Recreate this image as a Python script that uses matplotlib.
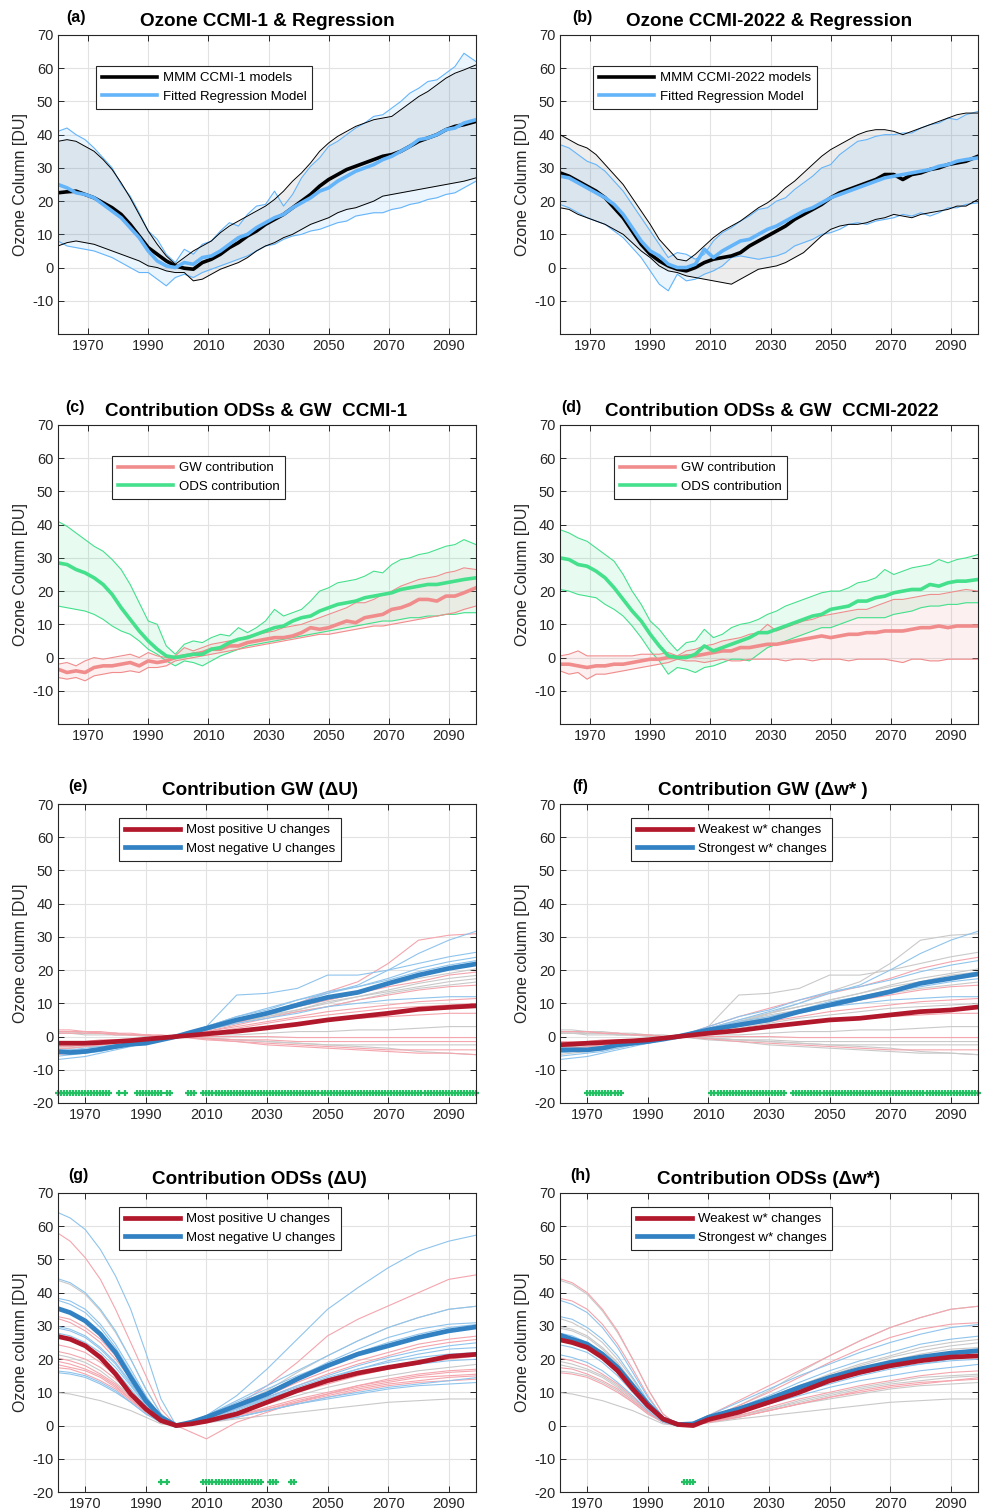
import numpy as np
import matplotlib
matplotlib.use('Agg')
import matplotlib.pyplot as plt
from matplotlib.lines import Line2D

plt.rcParams['font.family'] = ['Liberation Sans', 'DejaVu Sans']
plt.rcParams['axes.unicode_minus'] = False

# ── TAHUN ─────────────────────────────────────────────────────────────────────
yr3 = list(range(1960, 2098, 3)) + [2099]          # 47 titik, panel a-d
yr_m = [1960, 1965, 1970, 1975, 1980, 1985, 1990, 1995, 2000, 2005,
        2010, 2020, 2030, 2040, 2050, 2060, 2070, 2080, 2090, 2100]   # panel e-h

# ── PANEL (a) CCMI-1 ──────────────────────────────────────────────────────────
a_mmm = [22.5, 22.8, 23.0, 22.0, 21.0, 19.5, 18.0, 16.0, 13.0, 9.5,
         6.0, 4.0, 2.0, 0.5, -0.2, -0.5, 1.5, 2.5, 4.0, 6.0,
         7.5, 9.5, 11.0, 13.0, 14.5, 16.0, 18.0, 20.0, 22.0, 24.5,
         26.5, 28.0, 29.5, 30.5, 31.5, 32.5, 33.5, 34.0, 35.0, 36.5,
         38.0, 39.0, 40.0, 41.5, 42.5, 43.0, 44.0]
a_fit = [25.0, 24.0, 22.5, 22.0, 21.0, 19.0, 17.0, 15.0, 12.0, 9.0,
         5.0, 2.0, 0.5, 0.0, 1.5, 1.0, 3.0, 3.5, 5.0, 7.0,
         9.0, 10.0, 12.0, 13.5, 15.0, 16.0, 18.0, 19.5, 21.0, 23.0,
         24.0, 26.0, 27.5, 29.0, 30.0, 31.0, 32.5, 33.5, 35.0, 36.5,
         38.5, 39.0, 40.0, 41.5, 42.0, 43.5, 44.5]
a_blk_hi = [38.0, 38.5, 38.0, 36.5, 35.0, 32.5, 29.5, 25.5, 21.0, 16.0,
            11.0, 7.0, 3.5, 1.0, 3.0, 5.0, 6.5, 8.0, 10.5, 12.5,
            14.0, 15.5, 17.0, 18.5, 20.5, 23.0, 26.0, 28.5, 31.5, 35.0,
            37.5, 39.5, 41.0, 42.5, 43.5, 44.5, 45.0, 45.5, 47.5, 49.5,
            51.5, 53.0, 55.0, 57.0, 58.5, 59.5, 61.0]
a_blk_lo = [6.5, 7.5, 8.0, 7.5, 7.0, 6.0, 5.0, 4.0, 3.0, 2.0,
            0.5, 0.0, -1.0, -1.5, -1.5, -4.0, -3.5, -2.0, -0.5, 0.5,
            1.5, 3.0, 5.0, 6.5, 7.5, 9.0, 10.0, 11.5, 13.0, 14.0,
            15.0, 16.5, 17.5, 18.0, 19.0, 20.0, 21.5, 22.0, 22.5, 23.0,
            23.5, 24.0, 24.5, 25.0, 25.5, 26.0, 27.0]
a_fit_hi = [41.0, 42.0, 40.0, 38.5, 36.0, 33.0, 30.0, 25.0, 21.5, 16.5,
            11.0, 8.5, 4.0, 1.5, 5.5, 4.0, 7.0, 8.0, 11.0, 13.5,
            12.5, 16.0, 18.5, 19.0, 23.0, 18.5, 22.0, 27.0, 30.5, 33.0,
            36.5, 38.0, 40.0, 42.0, 43.5, 45.5, 46.0, 48.0, 50.0, 52.5,
            54.0, 56.0, 56.5, 58.5, 60.5, 64.5, 62.0]
a_fit_lo = [8.0, 6.5, 6.0, 5.5, 5.0, 4.0, 3.0, 1.5, 0.0, -1.5,
            -1.5, -3.5, -5.5, -3.0, -2.0, -3.0, -1.5, -0.5, 0.5, 1.5,
            2.5, 3.5, 5.0, 6.5, 7.0, 8.5, 9.5, 10.0, 11.0, 11.5,
            12.5, 13.5, 14.0, 15.5, 16.0, 16.5, 16.5, 17.5, 18.0, 19.0,
            19.5, 20.5, 21.0, 22.0, 22.5, 24.0, 26.0]

# ── PANEL (b) CCMI-2022 ───────────────────────────────────────────────────────
b_mmm = [28.5, 27.5, 26.0, 24.5, 23.0, 21.0, 18.0, 15.0, 11.0, 7.0,
         4.0, 2.0, 0.5, -0.5, -1.0, 0.0, 1.5, 2.5, 3.0, 3.5,
         4.5, 6.5, 8.0, 9.5, 11.0, 12.5, 14.5, 16.0, 17.5, 19.0,
         21.0, 22.5, 23.5, 24.5, 25.5, 26.5, 28.0, 28.0, 26.5, 28.0,
         28.5, 29.5, 30.0, 31.0, 31.5, 32.0, 33.5]
b_fit = [27.5, 27.0, 25.5, 24.0, 22.5, 21.0, 19.0, 16.0, 12.0, 8.0,
         5.0, 3.5, 1.0, 0.0, 0.0, 1.0, 5.5, 3.0, 5.0, 6.5,
         8.0, 8.5, 10.0, 11.5, 12.5, 14.0, 15.5, 17.0, 18.0, 19.5,
         21.0, 22.0, 23.0, 24.0, 25.0, 26.0, 27.0, 27.5, 28.0, 28.5,
         29.0, 29.5, 30.5, 31.0, 32.0, 32.5, 33.0]
b_blk_hi = [40.0, 38.5, 37.0, 36.0, 34.0, 31.0, 28.0, 25.0, 21.0, 17.0,
            13.0, 8.5, 5.5, 2.5, 2.0, 4.0, 6.5, 9.0, 11.0, 12.5,
            14.0, 16.0, 18.0, 19.5, 21.5, 24.0, 26.0, 28.5, 31.0, 33.5,
            35.5, 37.0, 38.5, 40.0, 41.0, 41.5, 41.5, 41.0, 40.0, 41.0,
            42.0, 43.0, 44.0, 45.0, 46.0, 46.5, 46.5]
b_blk_lo = [18.0, 17.5, 16.0, 15.0, 14.0, 13.0, 11.5, 10.0, 7.5, 5.0,
            3.0, 0.5, -1.0, -1.5, -2.5, -3.0, -3.5, -4.0, -4.5, -5.0,
            -3.5, -2.0, -0.5, 0.0, 0.5, 1.5, 3.0, 4.5, 7.0, 9.5,
            11.5, 12.5, 13.0, 13.0, 13.5, 14.5, 15.0, 16.0, 15.5, 15.0,
            16.0, 16.5, 17.0, 17.5, 18.5, 18.5, 20.5]
b_fit_hi = [37.0, 36.0, 34.0, 32.0, 31.0, 29.0, 26.0, 23.0, 19.0, 15.0,
            11.0, 7.0, 3.0, 4.5, 4.0, 2.5, 4.0, 8.0, 10.5, 12.0,
            14.0, 15.5, 17.5, 18.0, 20.0, 21.0, 23.5, 25.5, 27.5, 30.0,
            31.0, 34.0, 36.0, 38.0, 38.5, 39.5, 40.0, 40.0, 40.5, 40.5,
            42.0, 43.0, 43.5, 45.0, 44.5, 46.0, 47.0]
b_fit_lo = [19.0, 18.0, 16.5, 15.0, 14.0, 13.0, 11.0, 9.0, 6.0, 3.0,
            -1.0, -5.0, -7.0, -2.0, -4.0, -3.5, -2.0, -1.0, 0.5, 3.0,
            3.5, 3.0, 2.5, 3.0, 3.5, 4.5, 6.5, 7.5, 8.5, 10.0,
            10.5, 11.5, 13.0, 13.5, 13.0, 14.0, 14.5, 15.0, 16.0, 15.5,
            16.5, 15.5, 16.5, 18.0, 18.0, 19.0, 19.5]

# ── PANEL (c) KONTRIBUSI CCMI-1 ──────────────────────────────────────────────
c_ods = [28.5, 28.0, 26.5, 25.5, 24.0, 22.0, 19.0, 15.0, 11.5, 8.0,
         5.0, 2.5, 0.5, 0.0, 0.5, 1.0, 1.0, 2.5, 3.0, 4.5,
         5.5, 6.0, 7.0, 8.0, 9.0, 9.5, 11.0, 12.0, 12.5, 14.0,
         15.0, 16.0, 16.5, 17.0, 18.0, 18.5, 19.0, 19.5, 20.5, 21.0,
         21.5, 22.0, 22.0, 22.5, 23.0, 23.5, 24.0]
c_gw = [-3.5, -4.5, -4.0, -4.5, -3.0, -2.5, -2.5, -2.0, -1.5, -2.5,
        -1.0, -1.5, -1.0, 0.0, 0.5, 1.0, 1.5, 2.5, 2.5, 3.5,
        3.5, 4.5, 5.0, 5.5, 6.0, 6.0, 6.5, 7.5, 9.0, 8.5,
        9.0, 10.0, 11.0, 10.5, 12.0, 12.5, 13.0, 14.5, 15.0, 16.0,
        17.5, 17.5, 17.0, 18.5, 18.5, 19.5, 21.0]
c_ods_hi = [41.0, 39.5, 37.5, 35.5, 33.5, 32.0, 29.5, 26.5, 22.0, 16.5,
            11.0, 10.0, 3.5, 1.0, 4.0, 5.0, 4.5, 6.0, 7.0, 6.5,
            9.0, 7.5, 9.0, 11.0, 14.5, 12.5, 13.5, 14.5, 17.0, 20.0,
            21.0, 22.5, 23.0, 23.5, 24.5, 26.0, 25.5, 28.0, 29.5, 30.0,
            31.0, 31.5, 32.5, 33.5, 34.0, 35.5, 34.0]
c_ods_lo = [15.5, 15.0, 14.5, 14.0, 13.0, 11.5, 9.5, 8.0, 7.0, 5.0,
            2.5, 1.0, -1.0, -2.5, -1.0, -1.5, -2.5, -1.0, 0.5, 1.5,
            2.5, 3.5, 4.0, 4.5, 5.0, 5.5, 6.0, 6.5, 7.0, 7.5,
            8.0, 8.5, 9.0, 9.5, 10.0, 10.5, 11.0, 11.0, 11.5, 12.0,
            12.0, 12.5, 12.5, 13.0, 13.0, 13.5, 13.5]
c_gw_hi = [-2.0, -1.5, -2.5, -1.0, 0.0, -0.5, 0.0, 0.5, 1.0, 0.0,
           1.5, 0.5, 0.0, 0.5, 3.0, 2.0, 3.0, 4.0, 4.5, 5.0,
           5.5, 6.5, 7.0, 7.5, 8.0, 9.0, 9.5, 10.0, 11.0, 12.0,
           13.0, 14.0, 15.0, 16.5, 16.5, 17.5, 19.0, 20.0, 21.5, 22.5,
           23.5, 24.0, 24.5, 25.5, 26.0, 27.0, 26.5]
c_gw_lo = [-6.0, -6.5, -6.0, -7.0, -5.5, -5.0, -4.5, -4.5, -4.0, -4.5,
           -3.0, -3.0, -2.5, -1.0, -0.5, 0.0, 0.5, 1.0, 1.5, 2.0,
           2.5, 3.0, 3.5, 4.0, 4.5, 5.0, 5.5, 6.0, 6.5, 7.0,
           7.0, 7.5, 8.0, 8.5, 9.0, 9.5, 9.5, 10.0, 10.5, 11.0,
           11.5, 12.0, 12.5, 13.0, 13.5, 14.5, 15.5]

# ── PANEL (d) KONTRIBUSI CCMI-2022 ───────────────────────────────────────────
d_ods = [30.0, 29.5, 28.0, 27.5, 26.0, 24.0, 21.0, 17.5, 14.0, 11.0,
         7.0, 3.5, 0.5, 0.0, 0.0, 1.0, 3.5, 2.0, 3.0, 4.0,
         5.0, 6.0, 7.5, 7.5, 8.5, 9.5, 10.5, 11.5, 12.5, 13.0,
         14.5, 15.0, 15.5, 17.0, 17.0, 18.0, 18.5, 19.5, 20.0, 20.5,
         20.5, 22.0, 21.5, 22.5, 23.0, 23.0, 23.5]
d_gw = [-2.0, -2.0, -2.5, -3.0, -2.5, -2.5, -2.0, -2.0, -1.5, -1.0,
        -0.5, -0.5, 0.0, 0.0, 0.5, 0.5, 1.0, 1.5, 2.0, 2.0,
        3.0, 3.0, 3.5, 4.0, 4.0, 4.5, 5.0, 5.5, 6.0, 6.5,
        6.0, 6.5, 7.0, 7.0, 7.5, 7.5, 8.0, 8.0, 8.0, 8.5,
        9.0, 9.0, 9.5, 9.0, 9.5, 9.5, 9.5]
d_ods_hi = [38.5, 37.5, 36.0, 35.0, 33.0, 31.0, 29.0, 25.0, 20.0, 16.0,
            11.0, 8.5, 5.0, 2.0, 4.5, 5.0, 8.5, 6.0, 7.0, 9.0,
            10.0, 10.5, 11.5, 13.0, 14.0, 15.5, 16.5, 17.5, 18.5, 19.5,
            20.0, 20.0, 21.0, 22.5, 23.0, 24.0, 26.5, 25.0, 26.0, 27.0,
            27.5, 28.0, 29.5, 28.5, 29.5, 30.0, 31.0]
d_ods_lo = [20.5, 20.0, 19.0, 18.5, 18.0, 16.0, 14.5, 12.5, 9.5, 6.0,
            2.0, -1.0, -5.0, -3.0, -3.5, -4.5, -3.0, -2.5, -1.5, -0.5,
            -0.5, -1.0, 1.0, 3.0, 4.0, 5.0, 6.0, 7.0, 8.0, 9.0,
            9.0, 10.0, 11.0, 12.0, 12.0, 12.0, 12.0, 13.0, 13.5, 14.0,
            15.0, 15.5, 15.5, 16.0, 16.0, 16.5, 16.5]
d_gw_hi = [0.5, 1.0, 2.0, 0.5, 0.5, 0.5, 0.5, 0.5, 0.5, 1.0,
           1.0, 1.0, 1.5, 0.5, 2.0, 2.5, 3.5, 4.0, 5.0, 5.5,
           6.0, 7.0, 7.5, 10.0, 8.0, 9.0, 10.0, 11.0, 11.5, 12.5,
           13.0, 13.5, 14.0, 14.5, 14.5, 15.5, 16.5, 17.5, 17.5, 18.0,
           18.5, 19.0, 19.0, 19.5, 20.0, 20.5, 20.0]
d_gw_lo = [-4.0, -5.0, -4.5, -6.5, -5.0, -5.0, -4.5, -4.0, -3.5, -3.0,
           -2.5, -2.0, -1.5, -0.5, -1.0, -1.0, -1.5, -1.0, -0.5, -1.0,
           -1.0, -0.5, -0.5, -0.5, -0.5, -1.0, -0.5, -0.5, -1.0, -0.5,
           -0.5, -0.5, -1.0, -0.5, -0.5, -0.5, -0.5, -1.0, -1.5, -0.5,
           -0.5, -1.0, -1.0, -0.5, -0.5, -0.5, -0.5]

# ── PANEL (e)/(f) MODEL GW ────────────────────────────────────────────────────
gw01 = [-7, -6.5, -6, -5, -4, -3, -2, -1, 0, 1, 2.5, 5, 7.5, 10, 13, 15.5, 20, 25, 29, 32]
gw02 = [-5.5, -5, -4.5, -4, -3.5, -2.5, -1.5, -0.5, 0, 1, 2, 4, 7, 10, 13.5, 16.5, 22, 29, 30.5, 31]
gw03 = [-5, -4.5, -4, -3.5, -3, -2.5, -2, -1, 0, 1.5, 3, 12.5, 13, 14.5, 18.5, 18.5, 20, 22, 24, 25.5]
gw04 = [-4, -4, -3.5, -3, -2.5, -2, -1.5, -0.5, 0, 1.5, 3, 6, 8.5, 11, 13, 15, 17.5, 20.5, 22.5, 24]
gw05 = [-6, -5.5, -5, -4.5, -3.5, -2.5, -2, -1, 0, 1.5, 3, 6, 8, 11, 13.5, 15, 17, 19.5, 21.5, 23]
gw06 = [-3.5, -3.5, -3, -2.5, -2, -1.5, -1, -0.5, 0, 1, 2.5, 5, 7, 9, 11, 13, 15.5, 17.5, 19, 20.5]
gw07 = [-3, -3, -2.5, -2.5, -2, -1.5, -1, -0.5, 0, 1, 2, 4.5, 7, 9, 11, 13, 15, 16.5, 18.5, 19.5]
gw08 = [-4, -3.5, -3, -3, -2.5, -2, -1.5, -0.5, 0, 1, 2, 4.5, 6.5, 8, 10, 12, 14, 16, 17.5, 18.5]
gw09 = [-5, -4.5, -4, -3.5, -3, -2, -1.5, -0.5, 0, 1, 2.5, 4.5, 6, 8, 10.5, 12, 13.5, 15, 16.5, 17.5]
gw10 = [-3, -3, -2.5, -2, -2, -1.5, -1, -0.5, 0, 1, 2, 4, 6, 7.5, 9, 11, 13, 14.5, 15.5, 16.5]
gw11 = [-3.5, -3.5, -3, -2.5, -2, -1.5, -1, -0.5, 0, 0.5, 1.5, 3.5, 5.5, 7.5, 9, 11, 12.5, 14, 15, 15.5]
gw12 = [-4.5, -4, -4, -3.5, -3, -2.5, -1.5, -1, 0, 1, 2, 4, 5.5, 7, 9, 10, 11, 11.5, 12, 12]
gw13 = [-2.5, -2.5, -2, -2, -1.5, -1, -1, -0.5, 0, 0.5, 1.5, 3, 4.5, 6, 7.5, 8.5, 9.5, 10.5, 11, 11.5]
gw14 = [-2, -2, -2, -1.5, -1.5, -1, -0.5, -0.5, 0, 0.5, 1, 2.5, 4, 5.5, 6.5, 7.5, 8.5, 9, 9.5, 10]
gw15 = [-1.5, -1.5, -1.5, -1, -1, -1, -0.5, -0.5, 0, 0.5, 1, 2, 3, 4, 5, 5.5, 6, 6.5, 7, 7]
gw16 = [1, 1, 0.5, 0.5, 0.5, 0.5, 0, 0, 0, 0, 0.5, 0.5, 1, 1.5, 1.5, 2, 2, 2.5, 3, 3]
gw17 = [1.5, 1.5, 1.5, 1, 1, 0.5, 0.5, 0, 0, 0, 0, 0, 0, -0.3, -0.3, -0.3, -0.3, -0.3, -0.3, -0.3]
gw18 = [2, 2, 1.5, 1.5, 1, 1, 0.5, 0.5, 0, -0.3, -0.5, -1, -1, -1.5, -1.5, -1.5, -1.5, -1.5, -1.5, -1.5]
gw19 = [1, 1, 1, 1, 0.5, 0.5, 0.5, 0, 0, -0.3, -0.5, -1, -1.5, -2, -2.5, -2.5, -2.5, -2.5, -2.5, -2.5]
gw20 = [1.5, 1.5, 1, 1, 1, 0.5, 0.5, 0, 0, -0.3, -0.5, -1, -1.5, -2, -2.5, -3, -3.5, -4.5, -5, -5.5]
gw21 = [1.5, 1.5, 1.5, 1, 1, 0.5, 0.5, 0, 0, -0.3, -0.7, -1.5, -2, -2.5, -3, -3.5, -4, -4, -4, -4]
gw22 = [1, 1, 1, 1, 0.5, 0.5, 0.5, 0, 0, -0.5, -1, -1.5, -2.5, -3, -3.5, -4, -4.5, -5, -5, -5.5]
gw_models = [gw01, gw02, gw03, gw04, gw05, gw06, gw07, gw08, gw09, gw10, gw11,
             gw12, gw13, gw14, gw15, gw16, gw17, gw18, gw19, gw20, gw21, gw22]
warna_e = ['b', 'r', 'b', 'b', 'b', 'g', 'r', 'g', 'g', 'g', 'r',
           'b', 'r', 'r', 'r', 'g', 'r', 'r', 'g', 'g', 'r', 'r']
warna_f = ['b', 'g', 'g', 'r', 'b', 'g', 'g', 'g', 'b', 'g', 'r',
           'b', 'r', 'g', 'r', 'g', 'r', 'g', 'g', 'g', 'r', 'g']

e_pos = [-2, -2, -2, -1.8, -1.5, -1.2, -0.8, -0.4, 0, 0.4, 0.8, 1.6, 2.6, 3.7, 5, 6, 7, 8.2, 8.8, 9.3]
e_neg = [-4.5, -4.8, -4.5, -3.8, -3, -2.3, -2, -1, 0, 1.3, 2.5, 5, 7, 9.5, 11.8, 13.3, 16, 18.5, 20.5, 22]
f_weak = [-2.5, -2.3, -2, -1.8, -1.5, -1.3, -1, -0.5, 0, 0.5, 1, 1.8, 3, 4, 5, 5.5, 6.5, 7.5, 8, 9]
f_strong = [-4, -4, -4, -3.5, -2.5, -2, -1.5, -0.8, 0, 1, 2, 3.5, 5, 7.5, 9.5, 11.5, 13.5, 16, 17.5, 19]

# ── PANEL (g)/(h) MODEL ODS ───────────────────────────────────────────────────
od01 = [64.5, 62.5, 59, 53, 45, 35, 22, 8, 0, 1, 3, 9, 17, 26, 35, 41.5, 47.5, 52.5, 55.5, 57.5]
od02 = [58.5, 55.5, 50.5, 44, 35, 25, 15, 5, 0, 0.5, 2, 6, 12, 19, 27, 32, 36, 40, 44, 45.5]
od03 = [44.5, 43, 40, 35, 28.5, 20, 11, 3.5, 0, 1, 3, 7.5, 12, 16.5, 21, 25.5, 29.5, 32.5, 35, 36]
od04 = [44, 42.5, 39.5, 34.5, 28, 20, 11, 3.5, 0, 0.5, 2, 6, 10.5, 16, 21, 25.5, 29.5, 32.5, 35, 36]
od05 = [38.5, 37.5, 35, 30.5, 24.5, 17, 9, 2.5, 0, 0.5, 2, 6, 10, 14.5, 19, 23, 26.5, 29, 30.5, 31]
od06 = [38, 36.5, 34, 29.5, 23.5, 16, 8.5, 2.5, 0, 1, 3, 7, 11, 15, 18.5, 22, 25, 27.5, 29.5, 30.5]
od07 = [33, 32, 29.5, 26, 21, 14.5, 7.5, 2, 0, 0.5, 2, 5.5, 9, 13, 16.5, 19.5, 22, 24.5, 26, 27]
od08 = [32.5, 31, 28.5, 25, 20, 14, 7, 2, 0, 0.5, 1.5, 5, 8.5, 12, 15.5, 18.5, 21, 23.5, 25, 26]
od09 = [30, 29, 27, 23.5, 19, 13, 6.5, 1.5, 0, 0.5, 2, 5, 8.5, 12, 15, 18, 20.5, 22.5, 24, 25]
od10 = [29.5, 28.5, 26.5, 23, 18.5, 12.5, 6.5, 1.5, 0, 0.5, 1.5, 4.5, 8, 11, 14, 17, 19.5, 21.5, 23, 23.5]
od11 = [28, 27, 25, 22, 17.5, 12, 6, 1.5, 0, 1, 2.5, 5.5, 8.5, 11.5, 14.5, 17, 19, 20.5, 21.5, 22]
od12 = [27, 26, 24, 21, 16.5, 11, 5.5, 1.5, 0, 0.5, 2, 5, 8, 11, 13.5, 15.5, 17.5, 18.5, 19.5, 20]
od13 = [24.5, 23.5, 22, 19, 15, 10, 5, 1.5, 0, 0.5, 1.5, 4, 7, 10, 12.5, 15, 17, 18.5, 20, 21]
od14 = [21.5, 20.5, 19, 16.5, 13, 9, 4.5, 1, 0, 0.5, 1.5, 4, 6.5, 9, 11.5, 13.5, 15, 16.5, 17.5, 18.5]
od15 = [20.5, 19.5, 18, 15.5, 12.5, 8.5, 4.5, 1, 0, 0.3, 1, 3, 5.5, 8, 10, 12, 13.5, 15, 16, 16.5]
od16 = [19.5, 18.5, 17, 15, 12, 8, 4, 1, 0, 0.3, 1, 3, 5, 7.5, 9.5, 11.5, 13, 14.5, 15, 15.5]
od17 = [18.5, 17.5, 16.5, 14.5, 11.5, 8, 4, 1, 0, 0.3, 1, 3, 5, 7, 9, 11, 12.5, 13.5, 14.5, 15]
od18 = [17.5, 17, 15.5, 13.5, 11, 7.5, 4, 1, 0, 0.3, 1, 2.5, 4.5, 6.5, 8.5, 10.5, 12, 13, 13.5, 14]
od19 = [16.5, 16, 15, 13, 10.5, 7, 3.5, 1, 0, 0.3, 1, 2.5, 4.5, 6.5, 8, 9.5, 11, 12, 12.5, 13]
od20 = [16, 15.5, 14.5, 12.5, 10, 7, 3.5, 1, 0, 0.3, 1, 2.5, 4.5, 6.5, 8.5, 10, 11.5, 12.5, 13.5, 14.5]
od21 = [10, 9.5, 8.5, 7.5, 6, 4.5, 2.5, 0.5, 0, 0.3, 0.8, 2, 3, 4, 5, 6, 7, 7.5, 8, 8]
od22 = [22.5, 21.5, 20, 17.5, 14, 9.5, 5, 1, 0, -2, -4, 1, 4, 7, 9.5, 12, 14, 15.5, 16.5, 17]
ods_models = [od01, od02, od03, od04, od05, od06, od07, od08, od09, od10, od11,
              od12, od13, od14, od15, od16, od17, od18, od19, od20, od21, od22]
warna_g = ['b', 'r', 'b', 'g', 'b', 'b', 'r', 'r', 'b', 'b', 'b',
           'b', 'r', 'g', 'r', 'r', 'r', 'r', 'b', 'b', 'g', 'r']
warna_h = [None, None, 'r', 'g', 'r', 'b', 'b', 'g', 'g', 'g', 'b',
           'b', 'b', 'b', 'r', 'g', 'g', 'r', 'g', 'r', 'g', None]

g_pos = [27, 26, 24, 20.5, 15.5, 9.5, 5, 1.5, 0, 0.5, 1.3, 3.5, 7, 10.5, 13.5, 15.8, 17.5, 19, 20.8, 21.5]
g_neg = [35.5, 34, 31.5, 27.5, 22, 14.5, 7.5, 2.5, 0, 1, 2.5, 6, 9.5, 14, 18, 21.5, 24, 26.5, 28.5, 29.8]
h_weak = [26, 25, 23.5, 20.5, 16.5, 11, 6, 2, 0.3, 0, 1.8, 4, 7, 10, 13.5, 16, 18, 19.5, 20.6, 21]
h_strong = [27.5, 26, 24.5, 21.5, 17.5, 12, 6.5, 2, 0.3, 0.5, 2.5, 5, 8, 11.5, 14.5, 17, 19, 20.6, 21.8, 22.6]

# ── TAHUN SIGNIFIKAN (penanda hijau) ─────────────────────────────────────────
sig_e = list(range(1961, 1979)) + [1981, 1983] + list(range(1987, 1996)) + [1997, 1998] \
    + [2004, 2005, 2006] + list(range(2009, 2100))
sig_f = list(range(1970, 1982)) + list(range(2011, 2036)) + list(range(2038, 2100))
sig_g = [1995, 1997] + list(range(2009, 2029)) + [2031, 2032, 2033, 2038, 2039]
sig_h = [2002, 2003, 2004, 2005]

# ── WARNA ─────────────────────────────────────────────────────────────────────
C_FIT = '#64b4fa'
C_GW = '#f08c8c'
C_ODS = '#44e08c'
C_RED = '#b2182b'
C_BLUE = '#3282c3'
C_SIG = '#22c063'
TIPIS = {'r': '#f4a5ad', 'b': '#8fc4ec', 'g': '#c9c9c9'}

fig = plt.figure(figsize=(9.83, 15.12), dpi=100)
kiri = [58 / 983, 560 / 983]
bawah = [1 - 334 / 1512, 1 - 724 / 1512, 1 - 1103 / 1512, 1 - 1492 / 1512]
lebar, tinggi = 418 / 983, 299 / 1512
axes = [[fig.add_axes([kiri[c], bawah[r], lebar, tinggi]) for c in range(2)] for r in range(4)]


def gaya(ax, baris34):
    ax.set_xlim(1961 if baris34 else 1960, 2099)
    ax.set_ylim(-20, 70)
    ax.set_xticks(range(1970, 2100, 20))
    ax.set_yticks(range(-20 if baris34 else -10, 71, 10))
    ax.grid(True, color='#e2e2e2', lw=0.8)
    ax.set_axisbelow(True)
    ax.tick_params(direction='in', top=True, right=True, length=4, width=0.7,
                   labelsize=10.5, colors='#262626')
    for s in ax.spines.values():
        s.set_color('#262626')
        s.set_linewidth(0.8)
    ax.set_ylabel('Ozone column [DU]' if baris34 else 'Ozone Column [DU]',
                  fontsize=11.5, color='#262626', labelpad=3)


def judul(ax, huruf, teks, xc, xl):
    ax.text(xc, 1.045, teks, transform=ax.transAxes, ha='center', va='center',
            fontsize=13.6, fontweight='bold')
    ax.text(xl, 1.06, huruf, transform=ax.transAxes, ha='left', va='center',
            fontsize=11.5, fontweight='bold')


def legenda(ax, handles, labels, x, y):
    leg = ax.legend(handles, labels, loc='upper left', bbox_to_anchor=(x, y),
                    borderaxespad=0, fancybox=False, edgecolor='#262626',
                    framealpha=1, fontsize=9.5, handlelength=4.2,
                    labelspacing=0.5, borderpad=0.45, handletextpad=0.4)
    leg.get_frame().set_linewidth(0.8)


# ── BARIS 1: OZON & REGRESI ──────────────────────────────────────────────────
for ax, mmm, fit, bh, bl, fh, fl, nama, huruf, xl, lx in [
        (axes[0][0], a_mmm, a_fit, a_blk_hi, a_blk_lo, a_fit_hi, a_fit_lo,
         'CCMI-1', '(a)', 0.02, 0.091),
        (axes[0][1], b_mmm, b_fit, b_blk_hi, b_blk_lo, b_fit_hi, b_fit_lo,
         'CCMI-2022', '(b)', 0.029, 0.079)]:
    gaya(ax, False)
    ax.fill_between(yr3, bl, bh, color='black', alpha=0.07, lw=0)
    ax.fill_between(yr3, fl, fh, color=C_FIT, alpha=0.13, lw=0)
    ax.plot(yr3, fh, color=C_FIT, lw=0.8)
    ax.plot(yr3, fl, color=C_FIT, lw=0.8)
    ax.plot(yr3, bh, color='black', lw=0.7)
    ax.plot(yr3, bl, color='black', lw=0.7)
    h1, = ax.plot(yr3, mmm, color='black', lw=2.6)
    h2, = ax.plot(yr3, fit, color=C_FIT, lw=2.6)
    legenda(ax, [h1, h2], ['MMM %s models' % nama, 'Fitted Regression Model'], lx, 0.896)
    judul(ax, huruf, 'Ozone %s & Regression' % nama, 0.5, xl)

# ── BARIS 2: KONTRIBUSI ODS & GW ─────────────────────────────────────────────
for ax, ods, gw, oh, ol, gh, gl, nama, huruf, xc, xl in [
        (axes[1][0], c_ods, c_gw, c_ods_hi, c_ods_lo, c_gw_hi, c_gw_lo,
         'CCMI-1', '(c)', 0.474, 0.017),
        (axes[1][1], d_ods, d_gw, d_ods_hi, d_ods_lo, d_gw_hi, d_gw_lo,
         'CCMI-2022', '(d)', 0.507, 0.003)]:
    gaya(ax, False)
    ax.fill_between(yr3, ol, oh, color=C_ODS, alpha=0.12, lw=0)
    ax.fill_between(yr3, gl, gh, color=C_GW, alpha=0.13, lw=0)
    for arr in (oh, ol):
        ax.plot(yr3, arr, color=C_ODS, lw=0.8)
    for arr in (gh, gl):
        ax.plot(yr3, arr, color=C_GW, lw=0.8)
    h1, = ax.plot(yr3, gw, color=C_GW, lw=2.6)
    h2, = ax.plot(yr3, ods, color=C_ODS, lw=2.6)
    legenda(ax, [h1, h2], ['GW contribution', 'ODS contribution'], 0.129, 0.896)
    judul(ax, huruf, 'Contribution ODSs & GW  %s' % nama, xc, xl)

# ── BARIS 3-4: MODEL INDIVIDU ────────────────────────────────────────────────
panel_bawah = [
    (axes[2][0], gw_models, warna_e, e_pos, e_neg, sig_e, '(e)', 'Contribution GW (\u0394U)',
     0.483, 0.024, 0.146, ['Most positive U changes', 'Most negative U changes']),
    (axes[2][1], gw_models, warna_f, f_weak, f_strong, sig_f, '(f)', 'Contribution GW (\u0394w* )',
     0.486, 0.029, 0.170, ['Weakest w* changes', 'Strongest w* changes']),
    (axes[3][0], ods_models, warna_g, g_pos, g_neg, sig_g, '(g)', 'Contribution ODSs (\u0394U)',
     0.481, 0.024, 0.146, ['Most positive U changes', 'Most negative U changes']),
    (axes[3][1], ods_models, warna_h, h_weak, h_strong, sig_h, '(h)', 'Contribution ODSs (\u0394w*)',
     0.498, 0.024, 0.170, ['Weakest w* changes', 'Strongest w* changes']),
]
for ax, models, warna, merah, biru, sig, huruf, teks, xc, xl, lx, lab in panel_bawah:
    gaya(ax, True)
    for kode in ('g', 'r', 'b'):
        for m, w in zip(models, warna):
            if w == kode:
                ax.plot(yr_m, m, color=TIPIS[kode], lw=0.8)
    hb, = ax.plot(yr_m, biru, color=C_BLUE, lw=3.4)
    hr, = ax.plot(yr_m, merah, color=C_RED, lw=3.4)
    ax.plot(sig, np.full(len(sig), -17.0), '+', color=C_SIG, ms=5, mew=1.6,
            clip_on=False)
    legenda(ax, [Line2D([], [], color=C_RED, lw=3.4), Line2D([], [], color=C_BLUE, lw=3.4)],
            lab, lx, 0.953)
    judul(ax, huruf, teks, xc, xl)

plt.savefig('out.png', dpi=100)
